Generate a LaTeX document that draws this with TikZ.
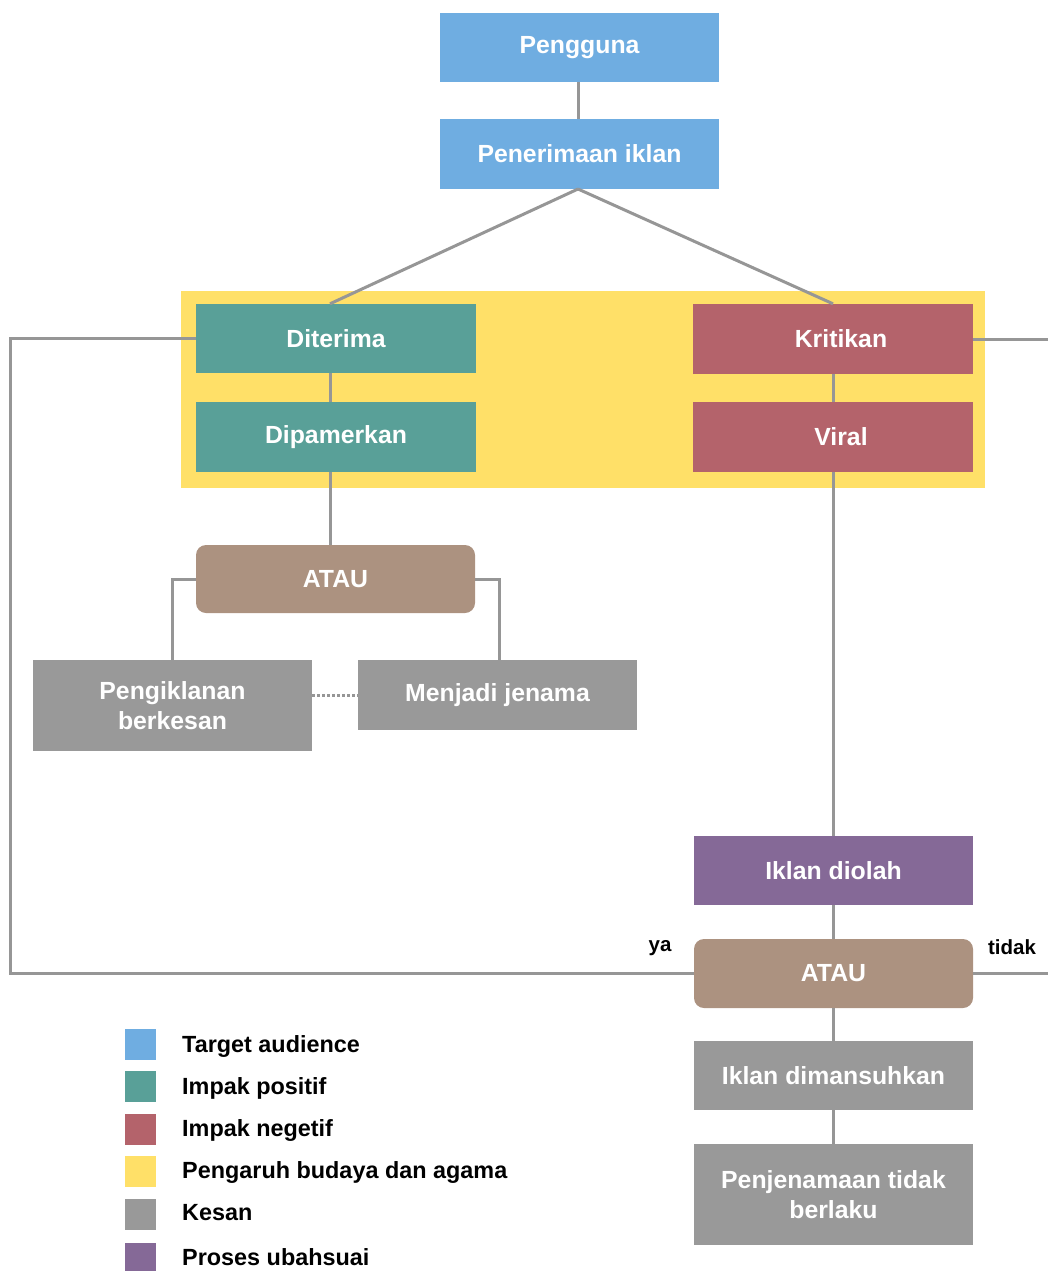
\documentclass[tikz,border=0pt]{standalone}
\usepackage{fontspec}
\setmainfont{Liberation Sans}
\definecolor{cblue}{RGB}{111,173,225}
\definecolor{cteal}{RGB}{89,160,152}
\definecolor{cred}{RGB}{180,99,107}
\definecolor{cyel}{RGB}{255,224,104}
\definecolor{cbrown}{RGB}{172,146,128}
\definecolor{cgray}{RGB}{153,153,153}
\definecolor{cpurp}{RGB}{133,105,151}
\definecolor{cline}{RGB}{150,150,150}
\begin{document}
\begin{tikzpicture}[x=1pt,y=-1pt,
  box/.style={rectangle, minimum width=279pt, minimum height=69pt, inner sep=0pt,
    text=white, font=\fontsize{24.8}{30}\selectfont\bfseries, align=center},
  bluebox/.style={box, fill=cblue},
  tealbox/.style={box, fill=cteal},
  redbox/.style={box, fill=cred},
  graybox/.style={box, fill=cgray},
  purpbox/.style={box, fill=cpurp},
  ataubox/.style={box, fill=cbrown, rounded corners=10pt},
  conn/.style={draw=cline, line width=3pt},
  lbl/.style={font=\fontsize{20.5}{24}\selectfont\bfseries, text=black, inner sep=0pt},
  legsq/.style={rectangle, minimum size=31pt, inner sep=0pt},
  legtxt/.style={font=\fontsize{23.4}{28}\selectfont\bfseries, text=black, inner sep=0pt, anchor=west}
]
\useasboundingbox (0,0) rectangle (1048,1271);
% background region
\fill[cyel] (181,291) rectangle (985,488);

% nodes
\node[bluebox] (peng) at (579.5,47.5) {Pengguna};
\node[bluebox, minimum height=70pt] (pen) at (579.5,154) {Penerimaan iklan};
\node[tealbox, minimum width=280pt] (dit) at (336,338.5) {Diterima};
\node[tealbox, minimum width=280pt, minimum height=70pt] (dip) at (336,437) {Dipamerkan};
\node[redbox, minimum width=280pt, minimum height=70pt] (krit) at (833,339) {\hspace*{16pt}Kritikan};
\node[redbox, minimum width=280pt, minimum height=70pt] (viral) at (833,437) {\hspace*{16pt}Viral};
\node[ataubox, minimum height=68pt] (atau1) at (335.5,579) {ATAU};
\node[graybox, minimum height=91pt] (pb) at (172.5,705.5) {Pengiklanan\\berkesan};
\node[graybox, minimum height=70pt] (mj) at (497.5,695) {Menjadi jenama};
\node[purpbox] (iklan) at (833.5,870.5) {Iklan diolah};
\node[ataubox] (atau2) at (833.5,973.5) {ATAU};
\node[graybox] (dim) at (833.5,1075.5) {Iklan dimansuhkan};
\node[graybox, minimum height=101pt] (ptb) at (833.5,1194.5) {Penjenamaan tidak\\berlaku};

\node[lbl] (ya) at (660,948) {ya};
\node[lbl] (tidak) at (1012,947) {tidak};

\coordinate (L) at (10,0);
\coordinate (R) at (1050,0);
\coordinate (top) at (578,189);
\coordinate (cl) at (330,0);
\coordinate (cr) at (833,0);

% connectors
\draw[conn] (peng.south -| top) -- (pen.north -| top);
\draw[conn] (top) -- (dit.north -| cl);
\draw[conn] (top) -- (krit.north -| cr);
\draw[conn] (dit.south -| cl) -- (dip.north -| cl);
\draw[conn] (krit.south -| cr) -- (viral.north -| cr);
\draw[conn] (dip.south -| cl) -- (atau1.north -| cl);
\draw[conn] (atau1.west) -| (pb.north);
\draw[conn] (atau1.east) -| ([xshift=1.5pt]mj.north);
\draw[draw=cline, line width=3pt, dash pattern=on 3pt off 2pt] (mj.west -| pb.east) -- (mj.west);
\draw[conn] (viral.south -| cr) -- (iklan.north -| cr);
\draw[conn] (iklan.south -| cr) -- (atau2.north -| cr);
\draw[conn] (atau2.south -| cr) -- (dim.north -| cr);
\draw[conn] (dim.south -| cr) -- (ptb.north -| cr);
\draw[conn] (dit.west) -- (dit.west -| L) -- (atau2.west -| L) -- (atau2.west);
\draw[conn] (krit.east) -- (krit.east -| R);
\draw[conn] (atau2.east) -- (atau2.east -| R);

% legend
\node[legsq, fill=cblue] (s1) at (140,1044) {};
\node[legsq, fill=cteal] (s2) at (140,1086) {};
\node[legsq, fill=cred] (s3) at (140,1129) {};
\node[legsq, fill=cyel] (s4) at (140,1171) {};
\node[legsq, fill=cgray] (s5) at (140,1214) {};
\node[legsq, fill=cpurp] (s6) at (140,1258) {};
\node[legtxt] (t1) at (182,1046) {Target audience};
\node[legtxt] (t2) at (182,1088) {Impak positif};
\node[legtxt] (t3) at (182,1130) {Impak negetif};
\node[legtxt] (t4) at (182,1172) {Pengaruh budaya dan agama};
\node[legtxt] (t5) at (182,1213) {Kesan};
\node[legtxt] (t6) at (182,1257) {Proses ubahsuai};
\end{tikzpicture}
\end{document}
